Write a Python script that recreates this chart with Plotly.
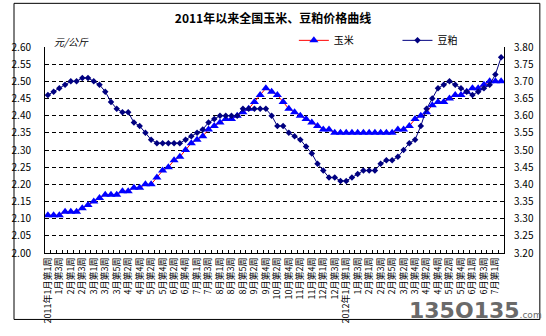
import plotly.graph_objects as go

# Weeks per month used by the weekly price survey
WEEK_COUNTS_2011 = [4, 4, 5, 4, 4, 5, 4, 5, 4, 4, 5, 4]
WEEK_COUNTS_2012 = [4, 5, 4, 4, 5, 4, 2]

WEEKS = []
for year, counts in ((2011, WEEK_COUNTS_2011), (2012, WEEK_COUNTS_2012)):
    for month, n_weeks in enumerate(counts, start=1):
        for week in range(1, n_weeks + 1):
            WEEKS.append(f"{year}年{month}月第{week}周")

# Labels shown on every other week
TICK_LABELS = [
    "2011年1月第1周", "1月第3周", "2月第1周", "2月第3周", "3月第1周", "3月第3周",
    "3月第5周", "4月第2周", "4月第4周", "5月第2周", "5月第4周", "6月第2周",
    "6月第4周", "7月第1周", "7月第3周", "8月第1周", "8月第3周", "8月第5周",
    "9月第2周", "9月第4周", "10月第2周", "10月第4周", "11月第2周", "11月第4周",
    "12月第1周", "12月第3周",
    "2012年1月第1周", "1月第3周", "2月第1周", "2月第3周", "2月第5周", "3月第2周",
    "3月第4周", "4月第2周", "4月第4周", "5月第2周", "5月第4周", "6月第1周",
    "6月第3周", "7月第1周",
]

# Corn price, yuan/kg (left axis)
CORN = [
    2.11, 2.11, 2.11, 2.12, 2.12, 2.12, 2.13, 2.14, 2.15, 2.16,
    2.17, 2.17, 2.17, 2.18, 2.18, 2.19, 2.19, 2.20, 2.20, 2.22,
    2.24, 2.25, 2.27, 2.28, 2.30, 2.32, 2.33, 2.34, 2.36, 2.37,
    2.38, 2.39, 2.39, 2.40, 2.41, 2.42, 2.44, 2.46, 2.48, 2.47,
    2.46, 2.44, 2.42, 2.41, 2.40, 2.39, 2.38, 2.37, 2.36, 2.36,
    2.35, 2.35, 2.35, 2.35, 2.35, 2.35, 2.35, 2.35, 2.35, 2.35,
    2.35, 2.36, 2.36, 2.37, 2.39, 2.40, 2.41, 2.43, 2.44, 2.44,
    2.45, 2.46, 2.46, 2.47, 2.48, 2.48, 2.49, 2.50, 2.50, 2.50,
]

# Soybean meal price, yuan/kg (right axis)
SOYMEAL = [
    3.66, 3.67, 3.68, 3.69, 3.70, 3.70, 3.71, 3.71, 3.70, 3.69,
    3.67, 3.64, 3.62, 3.61, 3.61, 3.58, 3.57, 3.55, 3.53, 3.52,
    3.52, 3.52, 3.52, 3.52, 3.53, 3.54, 3.55, 3.56, 3.58, 3.59,
    3.60, 3.60, 3.60, 3.60, 3.62, 3.62, 3.62, 3.62, 3.62, 3.60,
    3.57, 3.57, 3.55, 3.54, 3.53, 3.51, 3.49, 3.46, 3.44, 3.42,
    3.42, 3.41, 3.41, 3.42, 3.43, 3.44, 3.44, 3.44, 3.46, 3.47,
    3.47, 3.48, 3.50, 3.52, 3.53, 3.57, 3.62, 3.65, 3.68, 3.69,
    3.70, 3.69, 3.68, 3.67, 3.66, 3.67, 3.68, 3.69, 3.72, 3.77,
]

LEFT_TICKS = [2.00, 2.05, 2.10, 2.15, 2.20, 2.25, 2.30, 2.35, 2.40, 2.45, 2.50, 2.55, 2.60]
RIGHT_TICKS = [3.20, 3.25, 3.30, 3.35, 3.40, 3.45, 3.50, 3.55, 3.60, 3.65, 3.70, 3.75, 3.80]

FONT = "Noto Sans CJK SC"

tick_text = [TICK_LABELS[i // 2] if i % 2 == 0 else "" for i in range(len(WEEKS))]

fig = go.Figure()
fig.add_trace(go.Scatter(
    x=WEEKS, y=CORN, name="玉米", mode="lines+markers",
    line=dict(color="#FF0000", width=1),
    marker=dict(symbol="triangle-up", size=8, color="#0000FF"),
    legend="legend", showlegend=True,
))
fig.add_trace(go.Scatter(
    x=WEEKS, y=SOYMEAL, name="豆粕", mode="lines+markers", yaxis="y2",
    line=dict(color="#000080", width=1),
    marker=dict(symbol="diamond", size=5, color="#000080"),
    legend="legend2", showlegend=True,
))

W, H = 546, 336
ML, MR, MT, MB = 33, 39, 47, 72
pw, ph = W - ML - MR, H - MT - MB


def px_x(x):
    return (x - ML) / pw


def px_y(y):
    return (H - MB - y) / ph


fig.update_layout(
    width=W, height=H,
    margin=dict(l=ML, r=MR, t=MT, b=MB, pad=0),
    paper_bgcolor="white", plot_bgcolor="white",
    font=dict(family=FONT, color="black", size=10),
    showlegend=True,
    title=dict(text="<b>2011年以来全国玉米、豆粕价格曲线</b>", x=0.5, xanchor="center",
               y=1 - 19 / H, yanchor="middle", font=dict(size=12, family=FONT)),
    xaxis=dict(
        type="category", range=[-0.5, len(WEEKS) - 0.5],
        tickmode="array", tickvals=WEEKS, ticktext=tick_text,
        tickangle=-90, tickson="boundaries", ticks="inside", ticklen=3,
        tickcolor="black", showline=True, linecolor="black", linewidth=1,
        showgrid=False, tickfont=dict(size=9),
    ),
    yaxis=dict(
        range=[2.0, 2.6], tickmode="array", tickvals=LEFT_TICKS,
        ticktext=[f"{v:.2f}" for v in LEFT_TICKS],
        showgrid=True, gridcolor="black", gridwidth=1, griddash="4px,3px",
        showline=True, linecolor="black", linewidth=1, zeroline=False,
        ticks="", ticklabelstandoff=11, tickfont=dict(size=10),
    ),
    yaxis2=dict(
        overlaying="y", side="right", range=[3.2, 3.8],
        tickmode="array", tickvals=RIGHT_TICKS,
        ticktext=[f"{v:.2f}" for v in RIGHT_TICKS],
        showgrid=False, showline=True, linecolor="black", linewidth=1,
        zeroline=False, ticks="", ticklabelstandoff=7, tickfont=dict(size=10),
    ),
    legend=dict(x=px_x(290), y=px_y(40), xanchor="left", yanchor="middle",
                orientation="h", bgcolor="rgba(0,0,0,0)", font=dict(size=10)),
    legend2=dict(x=px_x(397), y=px_y(40), xanchor="left", yanchor="middle",
                 orientation="h", bgcolor="rgba(0,0,0,0)", font=dict(size=10)),
    annotations=[
        dict(text="<i>元/公斤</i>", x=px_x(60), y=px_y(41), xref="paper", yref="paper",
             xanchor="center", yanchor="middle",
             showarrow=False, font=dict(size=10)),
        dict(text="<b>135O135</b><span style='font-size:9px'>.com</span>",
             x=px_x(478), y=px_y(325), xref="paper", yref="paper",
             xanchor="center", yanchor="middle",
             showarrow=False, font=dict(size=22, color="#6a6a6a", family="DejaVu Sans")),
    ],
    shapes=[
        dict(type="rect", xref="paper", yref="paper",
             x0=px_x(1), x1=px_x(544), y0=px_y(334), y1=px_y(1),
             line=dict(color="black", width=1)),
    ],
)

fig.write_html("out.html")
